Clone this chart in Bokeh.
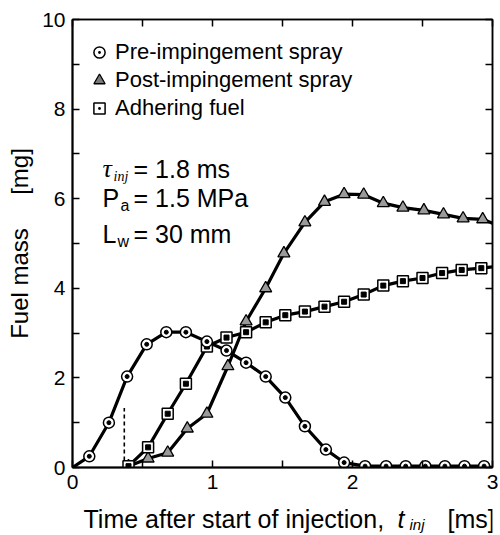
from bokeh.plotting import figure
from bokeh.layouts import column
from bokeh.models import (FixedTicker, LinearAxis, Range1d, Label, Legend, LegendItem)
from bokeh.core.properties import value
from bokeh.embed import file_html
from bokeh.resources import INLINE

# ---------------- data ----------------
# Pre-impingement spray
pre_t = [0.12, 0.26, 0.39, 0.53, 0.67, 0.81, 0.96, 1.10, 1.24, 1.38, 1.52, 1.66,
         1.81, 1.94, 2.09, 2.24, 2.38, 2.52, 2.66, 2.80, 2.94]
pre_m = [0.25, 1.00, 2.03, 2.75, 3.02, 3.02, 2.81, 2.61, 2.34, 2.03, 1.56, 0.92,
         0.40, 0.11, 0.03, 0.03, 0.03, 0.03, 0.03, 0.03, 0.03]
pre_start = (0.0, 0.0)
pre_end = (3.0, 0.0)

# Post-impingement spray
post_t = [0.40, 0.54, 0.68, 0.82, 0.96, 1.11, 1.24, 1.38, 1.51, 1.66, 1.80, 1.94,
          2.08, 2.22, 2.36, 2.51, 2.65, 2.79, 2.93]
post_m = [0.03, 0.20, 0.33, 0.87, 1.20, 2.26, 3.26, 4.00, 4.78, 5.47, 5.93, 6.10,
          6.09, 5.90, 5.80, 5.74, 5.65, 5.56, 5.54]
post_end = (3.0, 5.45)

# Adhering fuel
adh_t = [0.40, 0.54, 0.68, 0.81, 0.96, 1.10, 1.24, 1.38, 1.52, 1.66, 1.80, 1.94,
         2.08, 2.22, 2.36, 2.50, 2.64, 2.78, 2.92]
adh_m = [0.03, 0.45, 1.20, 1.87, 2.70, 2.90, 3.02, 3.24, 3.40, 3.48, 3.59, 3.70,
         3.86, 4.06, 4.16, 4.23, 4.34, 4.41, 4.45]
adh_end = (3.0, 4.48)

# impingement time marker (dashed line)
imp_t = 0.37
imp_top = 1.33

x_ticks = [0, 1, 2, 3]
x_minor = [0.5, 1.5, 2.5]
y_ticks = [0, 2, 4, 6, 8, 10]
y_minor = [1, 3, 5, 7, 9]

series_labels = ["Pre-impingement spray", "Post-impingement spray", "Adhering fuel"]

FONT = "Liberation Sans"
SERIF = "Liberation Serif"
NB = "\u00a0"

BL, BR = 72, 8   # left / right borders (px)

p = figure(width=500, height=505, output_backend="svg", toolbar_location=None,
           x_range=Range1d(0, 3), y_range=Range1d(0, 10),
           min_border_left=BL, min_border_right=BR, min_border_top=19, min_border_bottom=38)
p.xgrid.visible = False
p.ygrid.visible = False
p.outline_line_color = "black"
p.outline_line_width = 1.5
p.background_fill_color = "white"
p.border_fill_color = "white"

def style_axis(ax, ticks, minor, labels=True):
    ax.major_tick_in = 7
    ax.major_tick_out = 0
    ax.minor_tick_in = 7
    ax.minor_tick_out = 0
    ax.major_tick_line_color = "black"
    ax.minor_tick_line_color = "black"
    ax.major_tick_line_width = 1.5
    ax.minor_tick_line_width = 1.5
    ax.axis_line_color = "black"
    ax.axis_line_width = 2
    if labels:
        ax.ticker = FixedTicker(ticks=ticks, minor_ticks=minor)
        ax.major_label_text_font = FONT
        ax.major_label_text_font_size = "21px"
        ax.major_label_text_color = "black"
        ax.major_label_standoff = 7
    else:
        # mirror axis: tick marks only (drawn as minor ticks, so no labels)
        ax.ticker = FixedTicker(ticks=[], minor_ticks=sorted(ticks + minor))
        ax.major_label_standoff = 0
        ax.axis_line_width = 1.5

style_axis(p.xaxis[0], x_ticks, x_minor)
style_axis(p.yaxis[0], y_ticks, y_minor)
p.yaxis[0].axis_label = "Fuel mass" + NB * 5 + "[mg]"
p.yaxis[0].axis_label_text_font = FONT
p.yaxis[0].axis_label_text_font_size = "24px"
p.yaxis[0].axis_label_text_font_style = "normal"
p.yaxis[0].axis_label_text_color = "black"
p.yaxis[0].axis_label_standoff = 6

top = LinearAxis()
style_axis(top, x_ticks, x_minor, labels=False)
p.add_layout(top, "above")
right = LinearAxis()
style_axis(right, y_ticks, y_minor, labels=False)
p.add_layout(right, "right")

# ---------------- curves ----------------
LW = 3.2
p.line([pre_start[0]] + pre_t + [pre_end[0]], [pre_start[1]] + pre_m + [pre_end[1]],
       line_color="black", line_width=LW)
p.line(post_t + [post_end[0]], post_m + [post_end[1]], line_color="black", line_width=LW)
p.line(adh_t + [adh_end[0]], adh_m + [adh_end[1]], line_color="black", line_width=LW)

# dashed impingement line
p.segment(x0=[imp_t], y0=[0], x1=[imp_t], y1=[imp_top], line_color="black",
          line_width=1.6, line_dash="4 3")

# markers
p.scatter(post_t, post_m, marker="triangle", size=12, fill_color="#9a9a9a",
          line_color="black", line_width=1.3)
p.scatter(adh_t, adh_m, marker="square", size=11, fill_color="white",
          line_color="black", line_width=1.5)
p.scatter(adh_t, adh_m, marker="square", size=5, fill_color="black", line_color="black")
p.scatter(pre_t, pre_m, marker="circle", size=11, fill_color="white",
          line_color="black", line_width=1.5)
p.scatter(pre_t, pre_m, marker="circle", size=4, fill_color="black", line_color="black")

# legend (hidden proxy renderers)
r1 = p.scatter([0], [0], marker="circle_dot", fill_color="white", line_color="black",
               line_width=1.5, visible=False)
r2 = p.scatter([0], [0], marker="triangle", fill_color="#7a7a7a", line_color="black",
               line_width=1.3, visible=False)
r3 = p.scatter([0], [0], marker="square_dot", fill_color="white", line_color="black",
               line_width=1.5, visible=False)
legend = Legend(items=[LegendItem(label=series_labels[0], renderers=[r1]),
                       LegendItem(label=series_labels[1], renderers=[r2]),
                       LegendItem(label=series_labels[2], renderers=[r3])],
                location=(13, 345), glyph_width=28, glyph_height=28, label_height=28,
                label_standoff=2, spacing=0, padding=0, margin=0,
                label_text_font=FONT, label_text_font_size="22px", label_text_color="black",
                border_line_alpha=0, background_fill_alpha=0)
p.add_layout(legend, "center")

# ---------------- annotation texts ----------------
def lab(x, y, text, size, font=FONT, style="normal"):
    p.add_layout(Label(x=x, y=y, x_units="screen", y_units="screen", text=text,
                       text_font=font, text_font_size=size, text_font_style=style,
                       text_color="black", text_baseline="alphabetic", text_align="left"))

lab(30, 299, "τ", "26px", SERIF, "italic")
lab(41, 291, "inj", "14px", SERIF, "italic")
lab(61, 299, "= 1.8 ms", "25px")
lab(30, 270, "P", "25px")
lab(48, 262, "a", "16px")
lab(61, 270, "= 1.5 MPa", "25px")
lab(30, 234, "L", "25px")
lab(45, 226, "w", "16px")
lab(61, 234, "= 30 mm", "25px")

# ---------------- x-axis title (strip below the plot) ----------------
# frame of this strip spans the same page columns as the main frame; x range in page px
q = figure(width=500, height=30, output_backend="svg", toolbar_location=None,
           x_range=Range1d(BL, 500 - BR), y_range=Range1d(0, 30),
           x_axis_location=None, y_axis_location=None,
           min_border_left=BL, min_border_right=BR, min_border_top=0, min_border_bottom=0)
q.xgrid.visible = False
q.ygrid.visible = False
q.outline_line_color = None
q.background_fill_color = "white"
q.border_fill_color = "white"

def qtext(x, y, text, size, style="normal"):
    q.text(x=[x], y=[y], text=[text], text_font=value(FONT), text_font_size=value(size),
           text_font_style=value(style), text_color="black", text_baseline="alphabetic",
           text_align="left")

qtext(83, 17, "Time after start of injection,", "25px")
qtext(397, 17, "t", "25px", "italic")
qtext(409, 11, "inj", "15px", "italic")
qtext(447, 17, "[ms]", "25px")

layout = column(p, q, spacing=0)
open("out.html", "w").write(file_html(layout, INLINE))
